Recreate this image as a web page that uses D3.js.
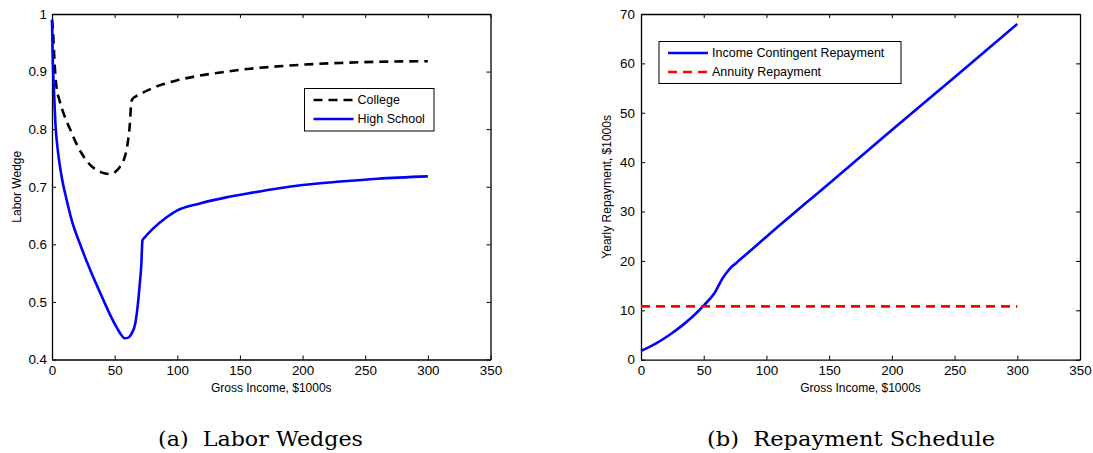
<!DOCTYPE html>
<html>
<head>
<meta charset="utf-8">
<script src="https://cdn.jsdelivr.net/npm/d3@7"></script>
<style>
  html, body { margin: 0; padding: 0; background: #fff; }
  svg { display: block; }
</style>
</head>
<body>
<svg id="chart" width="1093" height="453"></svg>
<script>
// ---------- DATA ----------
// Panel (a): Labor wedges
const collegeX = [0, 0.8, 2.1, 3.5, 6, 8.8, 12, 15.4, 19, 23.4, 27, 31.4, 35.5, 39.4, 46, 50, 54, 57, 59.3, 61, 62.2, 63.3, 64.5, 67, 71.3, 78, 82, 90, 100, 118, 140, 158, 180, 200, 230, 260, 300];
const collegeY = [0.99, 0.97, 0.913, 0.875, 0.85, 0.83, 0.812, 0.795, 0.777, 0.759, 0.747, 0.736, 0.729, 0.725, 0.722, 0.725, 0.734, 0.745, 0.762, 0.785, 0.81, 0.848, 0.853, 0.857, 0.862, 0.869, 0.873, 0.879, 0.885, 0.893, 0.9, 0.905, 0.909, 0.912, 0.915, 0.917, 0.918];

const hsX = [0, 0.5, 1.3, 2.7, 4.8, 7.5, 11.7, 16, 22.3, 30, 38, 45, 50.5, 54, 58, 61, 63.5, 66.5, 68.5, 70, 71.3, 72.2, 74, 80, 91.5, 100, 118, 140, 158, 180, 200, 230, 260, 300];
const hsY = [0.99, 0.93, 0.88, 0.81, 0.76, 0.72, 0.677, 0.64, 0.601, 0.558, 0.518, 0.484, 0.46, 0.447, 0.437, 0.438, 0.445, 0.463, 0.495, 0.53, 0.565, 0.607, 0.612, 0.626, 0.647, 0.659, 0.671, 0.682, 0.689, 0.697, 0.703, 0.709, 0.714, 0.718];

// Panel (b): Repayment schedule
const icX = [0, 6, 12, 22.6, 33.2, 42.5, 50.5, 58.5, 65.1, 68.5, 71.8, 76, 83.7, 100, 150, 200, 250, 300];
const icY = [1.8, 2.5, 3.3, 5.0, 7.0, 9.05, 11.1, 13.45, 16.5, 17.7, 18.7, 19.6, 21.3, 24.9, 35.7, 46.5, 57.2, 68.0];

const annuityX = [0, 300];
const annuityY = [10.8, 10.8];

// Ticks
const xTicks = [0, 50, 100, 150, 200, 250, 300, 350];
const yTicksA = [0.4, 0.5, 0.6, 0.7, 0.8, 0.9, 1];
const yTicksB = [0, 10, 20, 30, 40, 50, 60, 70];

// Labels
const legendA = ["College", "High School"];
const legendB = ["Income Contingent Repayment", "Annuity Repayment"];

// ---------- DRAW ----------
const svg = d3.select("#chart");
const SANS = "'Liberation Sans', Arial, sans-serif";

function panel(opts) {
  const g = svg.append("g");
  const x = d3.scaleLinear().domain([0, 350]).range([opts.left, opts.right]);
  const y = d3.scaleLinear().domain(opts.yDomain).range([opts.bottom, opts.top]);

  const axB = d3.axisBottom(x).tickValues(xTicks).tickSizeInner(-4).tickSizeOuter(0).tickPadding(6).tickFormat(d3.format("d"));
  const axT = d3.axisTop(x).tickValues(xTicks).tickSizeInner(-4).tickSizeOuter(0).tickFormat("");
  const axL = d3.axisLeft(y).tickValues(opts.yTicks).tickSizeInner(-4).tickSizeOuter(0).tickPadding(opts.yPad).tickFormat(opts.yFmt);
  const axR = d3.axisRight(y).tickValues(opts.yTicks).tickSizeInner(-4).tickSizeOuter(0).tickFormat("");

  const styleAxis = sel => {
    sel.selectAll(".domain").attr("stroke", "#000").attr("stroke-width", 1.3);
    sel.selectAll(".tick line").attr("stroke", "#000").attr("stroke-width", 1);
    sel.selectAll(".tick text").style("font-family", SANS).style("font-size", "13.4px").attr("fill", "#000");
  };

  g.append("g").attr("transform", `translate(0,${opts.bottom})`).call(axB).call(styleAxis);
  g.append("g").attr("transform", `translate(0,${opts.top})`).call(axT).call(styleAxis);
  g.append("g").attr("transform", `translate(${opts.left},0)`).call(axL).call(styleAxis);
  g.append("g").attr("transform", `translate(${opts.right},0)`).call(axR).call(styleAxis);

  // lines
  opts.series.forEach(s => {
    const pts = s.x.map((v, i) => [v, s.y[i]]);
    const line = d3.line().x(d => x(d[0])).y(d => y(d[1])).curve(d3.curveMonotoneX);
    g.append("path").datum(pts)
      .attr("d", line)
      .attr("fill", "none")
      .attr("stroke", s.color)
      .attr("stroke-width", 2.6)
      .attr("stroke-dasharray", s.dash || null)
      .attr("stroke-linejoin", "round");
  });

  // x label
  g.append("text")
    .attr("x", (opts.left + opts.right) / 2).attr("y", opts.bottom + 32)
    .attr("text-anchor", "middle")
    .style("font-family", SANS).style("font-size", "12px")
    .text("Gross Income, $1000s");
  // y label
  g.append("text")
    .attr("transform", `translate(${opts.yLabelX},${(opts.top + opts.bottom) / 2}) rotate(-90)`)
    .attr("text-anchor", "middle")
    .style("font-family", SANS).style("font-size", "12px")
    .text(opts.yLabel);

  // legend
  const L = opts.legend;
  g.append("rect")
    .attr("x", L.x).attr("y", L.y).attr("width", L.w).attr("height", L.h)
    .attr("fill", "#fff").attr("stroke", "#000").attr("stroke-width", 1);
  opts.series.forEach((s, i) => {
    const cy = L.y + 11.5 + i * 19;
    g.append("line")
      .attr("x1", L.x + 9).attr("x2", L.x + 49).attr("y1", cy).attr("y2", cy)
      .attr("stroke", s.color).attr("stroke-width", 2.6)
      .attr("stroke-dasharray", s.dash || null);
    g.append("text")
      .attr("x", L.x + 53).attr("y", cy).attr("dy", "0.35em")
      .style("font-family", SANS).style("font-size", "12.5px")
      .text(s.name);
  });

  // caption
  g.append("text")
    .attr("x", opts.capX).attr("y", 445.5)
    .attr("text-anchor", "middle")
    .style("font-family", "'DejaVu Serif', serif")
    .style("font-size", "21px")
    .attr("textLength", opts.capW)
    .attr("lengthAdjust", "spacingAndGlyphs")
    .style("white-space", "pre")
    .text(opts.caption);
}

panel({
  left: 52, right: 490.5, top: 14, bottom: 359.5,
  yDomain: [0.4, 1], yTicks: yTicksA, yFmt: d => (d === 1 ? "1" : d3.format(".1f")(d)), yPad: 5,
  yLabel: "Labor Wedge", yLabelX: 21,
  series: [
    { name: legendA[0], x: collegeX, y: collegeY, color: "#000", dash: "9,6" },
    { name: legendA[1], x: hsX, y: hsY, color: "#0000ff" }
  ],
  legend: { x: 304.5, y: 88.5, w: 129.5, h: 42.5 },
  capX: 260.5, capW: 205, caption: "(a)  Labor Wedges"
});

panel({
  left: 641, right: 1080, top: 14, bottom: 359.7,
  yDomain: [0, 70], yTicks: yTicksB, yFmt: d3.format("d"), yPad: 6,
  yLabel: "Yearly Repayment, $1000s", yLabelX: 611,
  series: [
    { name: legendB[0], x: icX, y: icY, color: "#0000ff" },
    { name: legendB[1], x: annuityX, y: annuityY, color: "#ff0000", dash: "9,6" }
  ],
  legend: { x: 659, y: 41.5, w: 242, h: 42 },
  capX: 851, capW: 288, caption: "(b)  Repayment Schedule"
});
</script>
</body>
</html>
